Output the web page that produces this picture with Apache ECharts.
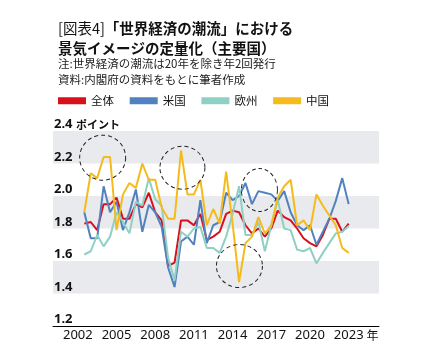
<!DOCTYPE html>
<html>
<head>
<meta charset="utf-8">
<script src="https://cdn.jsdelivr.net/npm/echarts@6/dist/echarts.min.js"></script>
<style>
html,body{margin:0;padding:0;background:#fff;}
#main{width:429px;height:360px;}
</style>
</head>
<body>
<div id="main"></div>
<script>
// ---- data ----
const seriesNames = ['全体', '米国', '欧州', '中国'];
const tickYears = ['2002', '2005', '2008', '2011', '2014', '2017', '2020', '2023'];
// half-yearly issues (2002-II ... 2023-II, 2020 once)
const total = [1.83,1.84,1.79,1.95,1.95,1.99,1.86,1.86,1.95,1.93,2.02,1.90,1.85,1.57,1.59,1.85,1.85,1.82,1.89,1.73,1.75,1.78,1.89,1.91,1.90,1.82,1.77,1.80,1.75,1.80,1.91,1.87,1.85,1.80,1.74,1.71,1.69,1.76,1.86,1.86,1.78,1.83];
const usa = [1.90,1.74,1.74,2.06,1.90,1.965,1.79,1.90,2.04,1.78,1.945,1.90,1.81,1.56,1.44,1.72,1.75,1.70,1.975,1.71,1.82,1.84,2.02,1.975,2.00,2.08,1.95,2.03,2.02,2.01,1.97,2.03,1.90,1.82,1.79,1.82,1.70,1.78,1.86,1.97,2.11,1.95];
const europe = [1.64,1.66,1.76,1.69,1.75,1.90,1.84,1.77,1.965,1.94,2.11,1.98,1.94,1.62,1.48,1.78,1.75,1.80,1.81,1.68,1.68,1.65,1.75,1.89,2.06,1.76,1.76,1.84,1.66,1.82,1.975,1.80,1.79,1.67,1.66,1.68,1.585,1.65,1.71,1.77,1.78,1.815];
const china = [1.90,2.14,2.11,2.24,2.24,1.79,2.01,2.08,2.05,2.20,2.10,2.10,1.93,1.86,1.86,2.28,2.01,2.01,2.10,1.82,1.92,1.83,2.15,1.83,1.47,1.71,1.75,1.87,1.77,1.82,1.99,2.06,2.10,1.82,1.85,1.79,2.01,1.94,1.88,1.82,1.68,1.65];
// dashed highlight ellipses: [x position (issue index scale), value]
const highlightCenters = [[3.85, 2.236], [16.22, 2.174], [28.16, 2.037], [25.06, 1.569]];

// ---- chart ----
const FONT = '"Noto Sans", "Noto Sans CJK JP", sans-serif';
const JFONT = '"Noto Sans CJK JP", sans-serif';
const colors = ['#d7101c', '#5281bf', '#8fd0c4', '#f5bb1c'];
const ellipseSizes = [[46, 45], [45, 43], [36, 43], [46, 43]];

const toXY = arr => arr.map((v, k) => [k + 1, v]);
const tickPositions = tickYears.map((y, k) => k * 6);

const chart = echarts.init(document.getElementById('main'), null, {renderer: 'canvas'});

const seriesData = [total, usa, europe, china];
const series = seriesNames.map((name, k) => ({
  name: name,
  type: 'line',
  data: toXY(seriesData[k]),
  showSymbol: false,
  symbol: 'none',
  lineStyle: {width: 2, color: colors[k]},
  itemStyle: {color: colors[k]},
  z: 2 + k
}));
series[3].markPoint = {
  symbol: 'circle',
  silent: true,
  label: {show: false},
  z: 10,
  data: highlightCenters.map((c, k) => ({
    coord: c,
    symbolSize: ellipseSizes[k],
    itemStyle: {color: 'rgba(0,0,0,0)', borderColor: '#222', borderWidth: 1, borderType: [4, 3]}
  }))
};

const option = {
  animation: false,
  backgroundColor: '#fff',
  title: [{
    left: 53, top: 13,
    text: '{r|[図表4]}{b|「世界経済の潮流」における}\n{b|景気イメージの定量化（主要国）}',
    textStyle: {
      rich: {
        r: {fontSize: 14.5, fontWeight: 'normal', lineHeight: 20, fontFamily: JFONT, color: '#111'},
        b: {fontSize: 14.5, fontWeight: 'bold', lineHeight: 20, fontFamily: JFONT, color: '#111'}
      }
    }
  }, {
    left: 53, top: 51,
    text: '注:世界経済の潮流は20年を除き年2回発行\n資料:内閣府の資料をもとに筆者作成',
    textStyle: {fontSize: 11.5, fontWeight: 'normal', lineHeight: 16, fontFamily: JFONT, color: '#222'}
  }],
  legend: {
    left: 53, top: 90,
    itemWidth: 28, itemHeight: 7, itemGap: 15.7,
    icon: 'rect',
    textStyle: {fontSize: 11.5, color: '#111', fontFamily: JFONT},
    data: seriesNames
  },
  grid: {left: 53, right: 50, top: 131, bottom: 34},
  xAxis: {
    type: 'value', min: -3.85, max: 46.7,
    axisLine: {show: true, lineStyle: {color: '#000', width: 1}},
    axisTick: {show: false},
    splitLine: {show: false},
    axisLabel: {
      customValues: tickPositions,
      margin: 3,
      fontSize: 13, color: '#111', fontFamily: FONT,
      formatter: function (v) {
        const k = Math.round(v / 6);
        if (k === tickYears.length - 1) return '{sp|}' + tickYears[k] + '{u|年}';
        return tickYears[k];
      },
      rich: {
        sp: {width: 15, fontSize: 13},
        u: {width: 15, align: 'right', fontSize: 12, fontFamily: JFONT, color: '#111'}
      }
    }
  },
  yAxis: {
    type: 'value', min: 1.2, max: 2.4, interval: 0.2,
    axisLine: {show: false},
    axisTick: {show: false},
    splitLine: {show: false},
    splitArea: {show: true, areaStyle: {color: ['#ffffff', '#e8eaed']}},
    axisLabel: {
      inside: true, margin: 1,
      verticalAlign: 'bottom',
      fontWeight: 'bold', fontSize: 13, color: '#111', fontFamily: FONT,
      formatter: function (v) {
        const s = v.toFixed(1);
        return Math.abs(v - 2.4) < 1e-6 ? s + ' {u|ポイント}' : s;
      },
      rich: {
        u: {fontSize: 11, fontWeight: 'bold', fontFamily: JFONT, color: '#111'}
      }
    }
  },
  series: series
};
chart.setOption(option);
</script>
</body>
</html>
